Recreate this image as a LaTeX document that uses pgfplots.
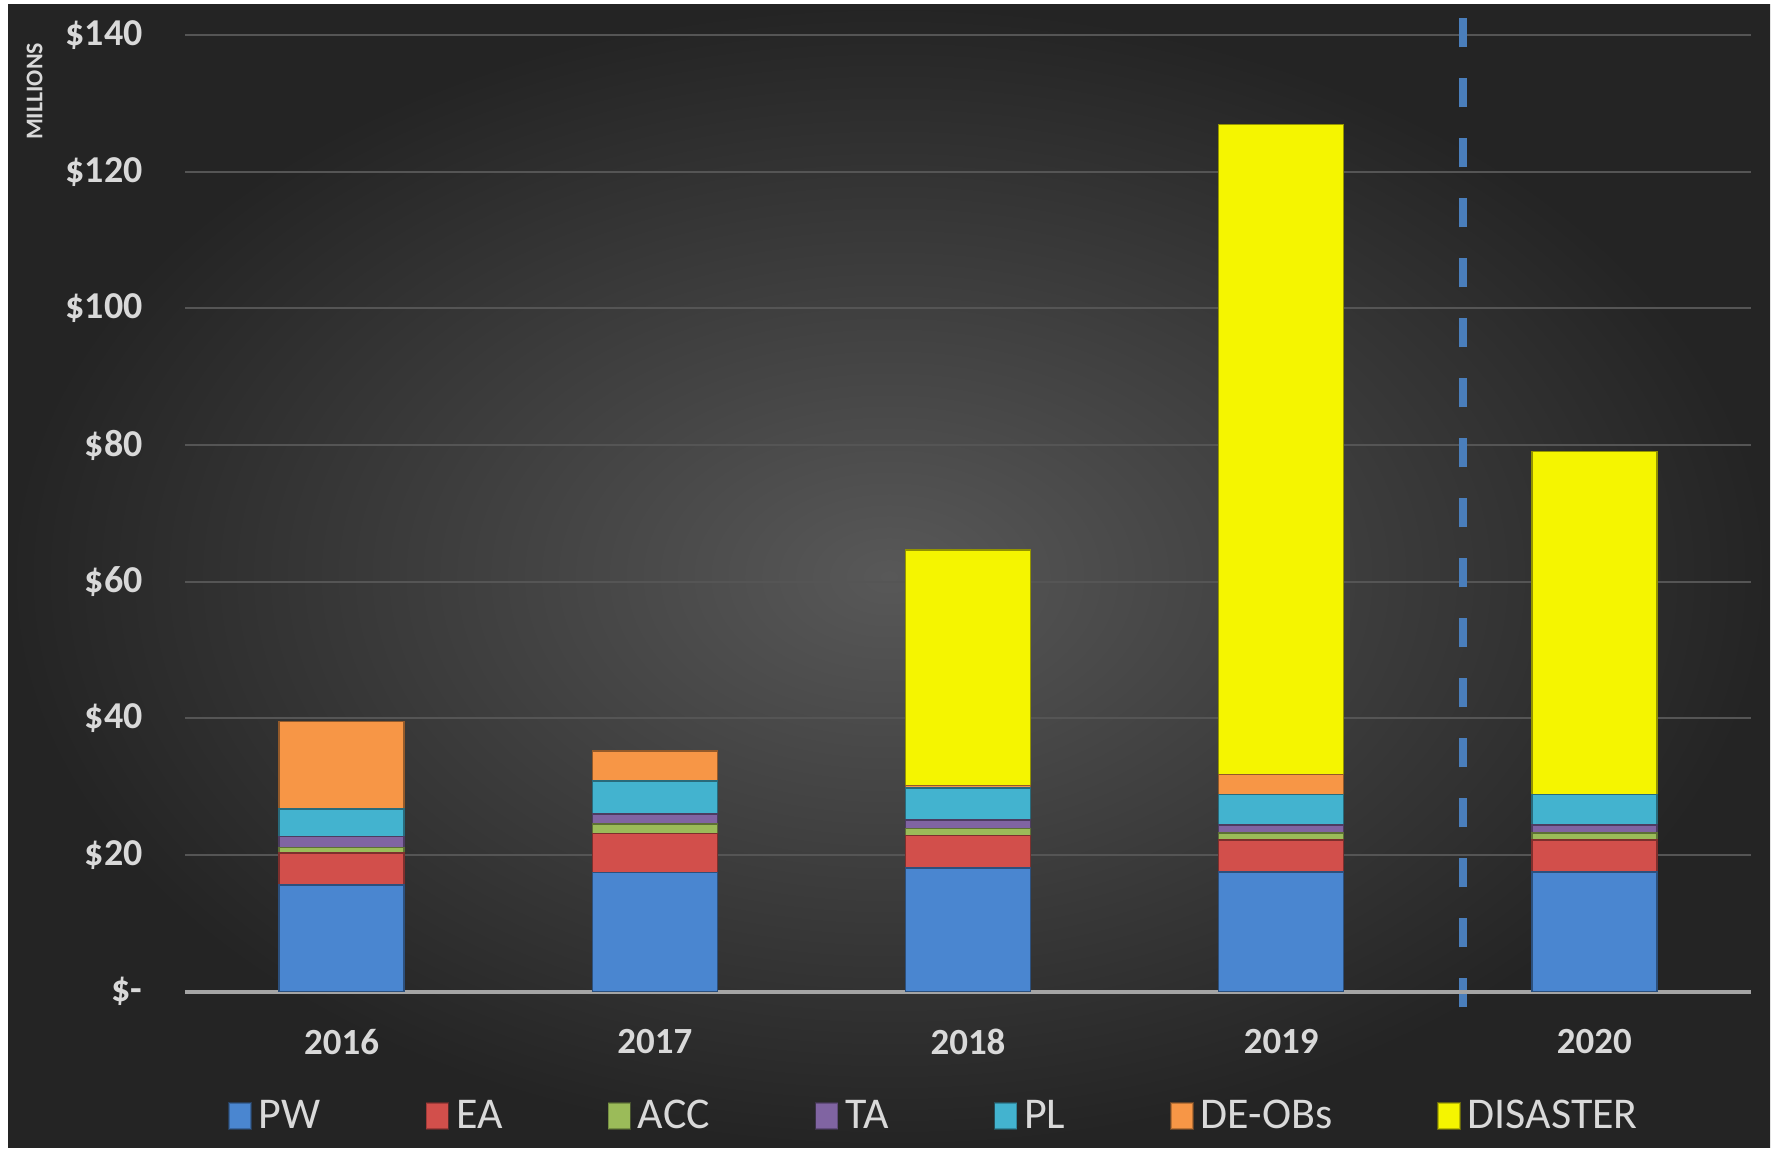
\documentclass[border=0pt]{standalone}
\usepackage{pgfplots}
\pgfplotsset{compat=1.18}
\usepackage{fontspec}
\setmainfont{Carlito}
\definecolor{cPW}{HTML}{4A86D0}
\definecolor{cEA}{HTML}{D24F4B}
\definecolor{cACC}{HTML}{9BBB59}
\definecolor{cTA}{HTML}{8064A2}
\definecolor{cPL}{HTML}{43B3CF}
\definecolor{cDE}{HTML}{F79646}
\definecolor{cDIS}{HTML}{F5F500}
\definecolor{txt}{HTML}{D9D9D9}
\definecolor{dash}{HTML}{4A7EBB}
\begin{document}
\begin{tikzpicture}
\fill[white] (0,0) rectangle (17.75cm,11.53cm);
\shade[inner color={rgb,255:red,88;green,88;blue,88}, outer color={rgb,255:red,36;green,36;blue,36}] (0.08cm,0.05cm) rectangle (17.70cm,11.48cm);
\useasboundingbox (0,0) rectangle (17.75cm,11.53cm);
\begin{axis}[
  at={(1.85cm,1.614cm)}, anchor=south west,
  scale only axis, width=15.66cm, height=9.566cm,
  ybar stacked, bar width=1.25cm,
  xmin=-0.5, xmax=4.5, ymin=0, ymax=140,
  clip=false,
  axis line style={draw=none},
  xtick={0,1,2,3,4}, xticklabels={2016,2017,2018,2019,2020},
  ytick={0,20,40,60,80,100,120,140},
  yticklabels={\$-,\$20,\$40,\$60,\$80,\$100,\$120,\$140},
  major tick length=0pt,
  ymajorgrids, grid style={line width=0.6pt, draw={rgb,255:red,85;green,85;blue,85}},
  yticklabel style={font=\fontsize{10.8pt}{12pt}\selectfont\bfseries, text=txt, xshift=-0.30cm},
  xticklabel style={font=\fontsize{10.5pt}{12pt}\selectfont\bfseries, text=txt, yshift=-0.25cm},
  legend style={at={(0.48,-0.131)}, anchor=center, draw=none, fill=none,
    text=txt, font=\fontsize{12.5pt}{14pt}\selectfont, legend columns=-1,
    /tikz/every even column/.append style={column sep=0.98cm}},
  legend image code/.code={\draw[#1, draw opacity=0.6] (0cm,-0.12cm) rectangle (0.22cm,0.14cm);},
]
\addplot[fill=cPW, draw=cPW!60!black] coordinates {(0,15.6) (1,17.4) (2,18.1) (3,17.5) (4,17.5)};
\addplot[fill=cEA, draw=cEA!60!black] coordinates {(0,4.7) (1,5.7) (2,4.7) (3,4.7) (4,4.7)};
\addplot[fill=cACC, draw=cACC!60!black] coordinates {(0,0.8) (1,1.4) (2,1.1) (3,1.0) (4,1.0)};
\addplot[fill=cTA, draw=cTA!60!black] coordinates {(0,1.6) (1,1.5) (2,1.2) (3,1.2) (4,1.2)};
\addplot[fill=cPL, draw=cPL!60!black] coordinates {(0,4.0) (1,4.8) (2,4.7) (3,4.4) (4,4.4)};
\addplot[fill=cDE, draw=cDE!60!black] coordinates {(0,12.8) (1,4.4) (2,0.4) (3,3.0) (4,0)};
\addplot[fill=cDIS, draw=cDIS!60!black] coordinates {(0,0) (1,0) (2,34.4) (3,95.1) (4,50.2)};
\legend{PW,EA,ACC,TA,PL,DE-OBs,DISASTER}
\draw[line width=1.1pt, draw={rgb,255:red,165;green,165;blue,165}] (axis cs:-0.5,0) -- (axis cs:4.5,0);
\addplot[ybar=0pt, forget plot, sharp plot, draw=dash, line width=0.8mm, dash pattern=on 2.9mm off 3.1mm, stack plots=false] coordinates {(3.58,-2.3) (3.58,144.3)};
\node[rotate=90, text=txt, font=\fontsize{6.8pt}{8pt}\selectfont\bfseries] at (rel axis cs:-0.096,0.941) {MILLIONS};
\end{axis}
\end{tikzpicture}
\end{document}
